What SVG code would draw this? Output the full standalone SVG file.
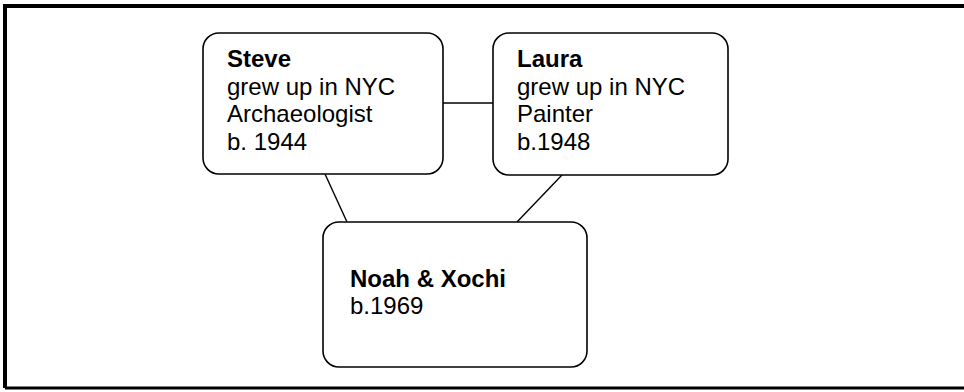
<svg xmlns="http://www.w3.org/2000/svg" width="964" height="392" viewBox="0 0 964 392">
<style>
.box{fill:#fff;stroke:#000;stroke-width:1.6}
.t{font-family:"Liberation Sans",Arial,sans-serif;font-size:24px;fill:#000}
.b{font-weight:bold}
.c{stroke:#000;stroke-width:1.4;fill:none}
</style>
<rect x="0" y="0" width="964" height="392" fill="#fff"/>
<path d="M5,388 L5,6 L970,6" fill="none" stroke="#000" stroke-width="4"/>
<path d="M5,388 L970,388" fill="none" stroke="#000" stroke-width="3"/>
<g id="connectors">
<line class="c" x1="443" y1="103" x2="493" y2="103"/>
<line class="c" x1="325" y1="174" x2="347" y2="222"/>
<line class="c" x1="562" y1="175" x2="517" y2="222"/>
</g>
<g id="steve">
<rect class="box" x="203" y="33" width="240" height="141" rx="16"/>
<text class="t" x="227" y="67"><tspan class="b">Steve</tspan><tspan x="227" y="95">grew up in NYC</tspan><tspan x="227" y="122">Archaeologist</tspan><tspan x="227" y="150">b. 1944</tspan></text>
</g>
<g id="laura">
<rect class="box" x="493" y="33" width="235" height="142" rx="16"/>
<text class="t" x="517" y="67"><tspan class="b">Laura</tspan><tspan x="517" y="95">grew up in NYC</tspan><tspan x="517" y="122">Painter</tspan><tspan x="517" y="150">b.1948</tspan></text>
</g>
<g id="noah">
<rect class="box" x="323" y="222" width="264" height="145" rx="16"/>
<text class="t" x="350" y="287"><tspan class="b">Noah &amp; Xochi</tspan><tspan x="350" y="314">b.1969</tspan></text>
</g>
</svg>
